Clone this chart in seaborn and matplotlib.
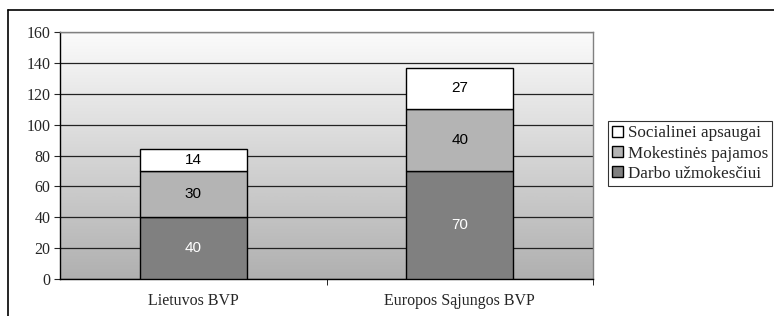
import numpy as np
import pandas as pd
import matplotlib
matplotlib.use("Agg")
import matplotlib.pyplot as plt
import seaborn as sns
from matplotlib.patches import Patch
from matplotlib.lines import Line2D

# data
categories = ["Lietuvos BVP", "Europos Sąjungos BVP"]
darbo = [40, 70]
mokestines = [30, 40]
socialinei = [14, 27]
series_names = ["Darbo užmokesčiui", "Mokestinės pajamos", "Socialinei apsaugai"]
colors = ["#808080", "#b4b4b4", "#ffffff"]
yticks = [0, 20, 40, 60, 80, 100, 120, 140, 160]

df = pd.DataFrame({"Kategorija": categories, "Darbo": darbo,
                   "Mokestines": mokestines, "Socialinei": socialinei})

sns.set_style("white")
plt.rcParams["font.family"] = ["Liberation Serif", "DejaVu Serif"]

W, H = 774, 316
fig = plt.figure(figsize=(W / 100, H / 100), dpi=100)
ax = fig.add_axes([60 / W, 1 - 279 / H, (593 - 60) / W, (279 - 32) / H])

# gradient background
grad = np.linspace(0, 1, 256).reshape(-1, 1)
ax.imshow(grad, extent=[0, 1, 0, 1], transform=ax.transAxes, aspect="auto",
          cmap=matplotlib.colors.LinearSegmentedColormap.from_list("g", ["#fbfbfb", "#b0b0b0"]),
          zorder=0)

# stacked bars
bottoms = np.zeros(len(categories))
cols = ["Darbo", "Mokestines", "Socialinei"]
for col, c in zip(cols, colors):
    sns.barplot(data=df, x="Kategorija", y=col, color=c, width=0.4,
                bottom=bottoms, edgecolor="black", linewidth=1.0,
                saturation=1, ax=ax, zorder=3)
    bottoms = bottoms + df[col].values

# value labels
layer_vals = [darbo, mokestines, socialinei]
for i, cont in enumerate(ax.containers):
    tc = "white" if i == 0 else "black"
    ax.bar_label(cont, labels=[str(v) for v in layer_vals[i]], label_type="center",
                 color=tc, fontsize=11, family="Liberation Sans")

ax.set_xlim(-0.5, 1.5)
ax.set_ylim(0, 160)
ax.set_yticks(yticks)
ax.yaxis.grid(True, color="#222222", linewidth=0.9)
ax.set_axisbelow(True)
for gl in ax.get_ygridlines():
    gl.set_zorder(1)
ax.set_xlabel("")
ax.set_ylabel("")

ax.set_xticks([0, 1])
ax.set_xticklabels(categories, fontsize=11.5)
ax.tick_params(axis="x", length=0, pad=10)
ax.tick_params(axis="y", length=4, direction="out", labelsize=11.5, pad=3, left=True)
# boundary ticks on x axis
ax.set_xticks([0.5, 1.5], minor=True)
ax.tick_params(axis="x", which="minor", length=4, direction="out", bottom=True, color="black")

ax.spines["left"].set_color("black")
ax.spines["bottom"].set_color("black")
ax.spines["top"].set_color("#808080")
ax.spines["right"].set_color("#808080")
for s in ax.spines.values():
    s.set_linewidth(1.0)
    s.set_visible(True)

# legend
handles = [Patch(facecolor=colors[2], edgecolor="black", label=series_names[2]),
           Patch(facecolor=colors[1], edgecolor="black", label=series_names[1]),
           Patch(facecolor=colors[0], edgecolor="black", label=series_names[0])]
leg = fig.legend(handles=handles, loc="upper left", bbox_to_anchor=(608 / W, 1 - 121 / H),
                 frameon=True, fancybox=False, edgecolor="black", fontsize=12.3,
                 handlelength=0.6, handleheight=0.6, handletextpad=0.3,
                 borderpad=0.25, labelspacing=0.25, borderaxespad=0)
leg.get_frame().set_linewidth(0.8)

# outer frame
fig.add_artist(Line2D([7.5 / W, 7.5 / W], [0, 1 - 10 / H], color="black", linewidth=1.2))
fig.add_artist(Line2D([7.5 / W, 1], [1 - 10 / H, 1 - 10 / H], color="black", linewidth=1.2))

fig.savefig("out.png", dpi=100)
